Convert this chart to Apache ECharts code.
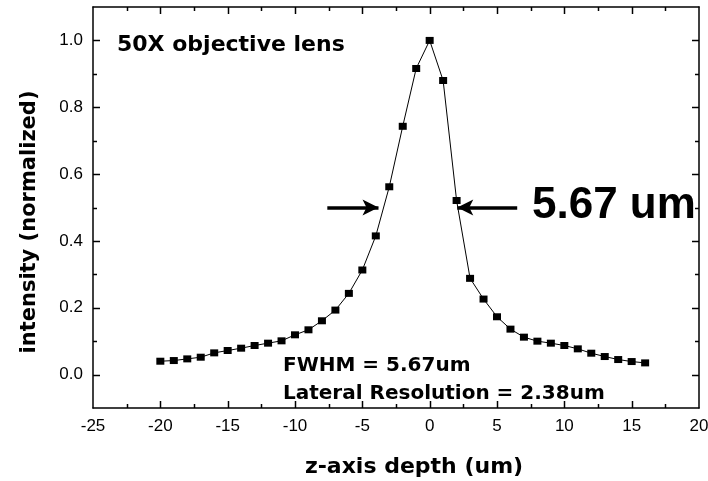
<!DOCTYPE html>
<html>
<head>
<meta charset="utf-8">
<script src="https://cdn.jsdelivr.net/npm/echarts@6/dist/echarts.min.js"></script>
<style>
html,body{margin:0;padding:0;background:#fff;}
#chart{width:708px;height:481px;}
</style>
</head>
<body>
<div id="chart"></div>
<script>
// z-axis depth (um)
const depth = [-20,-19,-18,-17,-16,-15,-14,-13,-12,-11,-10,-9,-8,-7,-6,-5,-4,-3,-2,-1,0,1,2,3,4,5,6,7,8,9,10,11,12,13,14,15,16];
// normalized intensity
const intensity = [0.040,0.042,0.047,0.052,0.065,0.072,0.079,0.087,0.094,0.101,0.119,0.134,0.161,0.193,0.243,0.313,0.415,0.562,0.743,0.916,1.0,0.880,0.521,0.288,0.226,0.173,0.136,0.112,0.100,0.094,0.087,0.077,0.064,0.054,0.045,0.039,0.035];
// FWHM arrows (from, to) at half maximum
const arrowLeft = [[-7.6, 0.5], [-3.8, 0.5]];
const arrowRight = [[6.5, 0.5], [2.05, 0.5]];
const xTickLabels = ['-25','-20','-15','-10','-5','0','5','10','15','20'];
const yTickLabels = ['0.0','0.2','0.4','0.6','0.8','1.0'];

const FONT = "'Liberation Sans', Arial, Helvetica, sans-serif";
const WIDE = "'DejaVu Sans', Verdana, sans-serif";
const X_MIN = -25, X_MAX = 20, Y_MIN = -0.1, Y_MAX = 1.1;
const chart = echarts.init(document.getElementById('chart'));

const points = depth.map((x, i) => [x, intensity[i]]);

// tick values derived from the tick labels (major) and their midpoints (minor)
const xMajor = xTickLabels.map(Number);
const xMinor = xMajor.slice(0, -1).map(v => v + 2.5);
const yMajor = yTickLabels.map(Number);
const yMinor = [Y_MIN].concat(yMajor.map(v => +(v + 0.1).toFixed(1)));
const xTickData = xMajor.filter(v => v > X_MIN && v < X_MAX).map(v => [v, Y_MIN, 7])
  .concat(xMinor.map(v => [v, Y_MIN, 4]));
const yTickData = yMajor.map(v => [X_MIN, v, 7])
  .concat(yMinor.filter(v => v > Y_MIN && v < Y_MAX).map(v => [X_MIN, v, 4]));

const TICK_STYLE = {stroke: '#000', lineWidth: 1.5};
function renderXTick(params, api) {
  const cs = params.coordSys;
  const px = Math.round(api.coord([api.value(0), api.value(1)])[0]) + 0.5;
  const len = api.value(2);
  const yb = cs.y + cs.height, yt = cs.y;
  return {type: 'group', children: [
    {type: 'line', shape: {x1: px, y1: yb, x2: px, y2: yb - len}, style: TICK_STYLE},
    {type: 'line', shape: {x1: px, y1: yt, x2: px, y2: yt + len}, style: TICK_STYLE}
  ]};
}
function renderYTick(params, api) {
  const cs = params.coordSys;
  const py = Math.round(api.coord([api.value(0), api.value(1)])[1]) + 0.5;
  const len = api.value(2);
  const xl = cs.x, xr = cs.x + cs.width;
  return {type: 'group', children: [
    {type: 'line', shape: {x1: xl, y1: py, x2: xl + len, y2: py}, style: TICK_STYLE},
    {type: 'line', shape: {x1: xr, y1: py, x2: xr - len, y2: py}, style: TICK_STYLE}
  ]};
}

const AXLINE = {show: true, onZero: false, lineStyle: {color: '#000', width: 1.5}};

chart.setOption({
  backgroundColor: '#fff',
  animation: false,
  grid: {left: 93, right: 9, top: 7, bottom: 73, outerBoundsMode: 'none'},
  xAxis: [
    {type: 'value', position: 'bottom', min: X_MIN, max: X_MAX, interval: 5,
      axisLine: AXLINE, axisTick: {show: false}, splitLine: {show: false},
      axisLabel: {color: '#000', fontFamily: FONT, fontSize: 17, margin: 10,
        formatter: v => { const s = String(v); return xTickLabels.indexOf(s) >= 0 ? s : ''; }}},
    {type: 'value', position: 'top', min: X_MIN, max: X_MAX, interval: 5,
      axisLine: AXLINE, axisTick: {show: false}, splitLine: {show: false}, axisLabel: {show: false}}
  ],
  yAxis: [
    {type: 'value', position: 'left', min: Y_MIN, max: Y_MAX, splitNumber: 6,
      axisLine: AXLINE, axisTick: {show: false}, splitLine: {show: false},
      axisLabel: {color: '#000', fontFamily: FONT, fontSize: 17, margin: 10,
        formatter: v => { const s = v.toFixed(1); return yTickLabels.indexOf(s) >= 0 ? s : ''; }}},
    {type: 'value', position: 'right', min: Y_MIN, max: Y_MAX, splitNumber: 6,
      axisLine: AXLINE, axisTick: {show: false}, splitLine: {show: false}, axisLabel: {show: false}}
  ],
  series: [{
    type: 'custom', name: 'xticks', xAxisIndex: 0, yAxisIndex: 0, clip: false, silent: true, z: 5,
    data: xTickData, encode: {x: 0, y: 1}, renderItem: renderXTick
  }, {
    type: 'custom', name: 'yticks', xAxisIndex: 0, yAxisIndex: 0, clip: false, silent: true, z: 5,
    data: yTickData, encode: {x: 0, y: 1}, renderItem: renderYTick
  }, {
    type: 'line',
    data: points,
    xAxisIndex: 0, yAxisIndex: 0,
    symbol: 'rect', symbolSize: [8, 7],
    itemStyle: {color: '#000'},
    lineStyle: {color: '#000', width: 1},
    markLine: {
      silent: true,
      symbol: ['none', 'arrow'],
      symbolSize: [12, 16],
      lineStyle: {color: '#000', width: 3.5, type: 'solid'},
      label: {show: false},
      data: [
        [{coord: arrowLeft[0]}, {coord: arrowLeft[1]}],
        [{coord: arrowRight[0]}, {coord: arrowRight[1]}]
      ]
    }
  }],
  graphic: [
    {type: 'text', x: 117, y: 45, style: {text: '50X objective lens', font: "bold 22px " + WIDE, fill: '#000', verticalAlign: 'middle'}},
    {type: 'text', x: 532, y: 206, style: {text: '5.67 um', font: "bold 44px " + FONT, fill: '#000', verticalAlign: 'middle'}},
    {type: 'text', x: 283, y: 366, style: {text: 'FWHM = 5.67um', font: "bold 20px " + WIDE, fill: '#000', verticalAlign: 'middle'}},
    {type: 'text', x: 283, y: 394, style: {text: 'Lateral Resolution = 2.38um', font: "bold 20px " + WIDE, fill: '#000', verticalAlign: 'middle'}},
    {type: 'text', x: 30, y: 222, rotation: Math.PI / 2, style: {text: 'intensity (normalized)', font: "bold 21px " + WIDE, fill: '#000', align: 'center', verticalAlign: 'middle'}},
    {type: 'text', x: 414, y: 467, style: {text: 'z-axis depth (um)', font: "bold 22px " + WIDE, fill: '#000', align: 'center', verticalAlign: 'middle'}}
  ]
});
</script>
</body>
</html>
